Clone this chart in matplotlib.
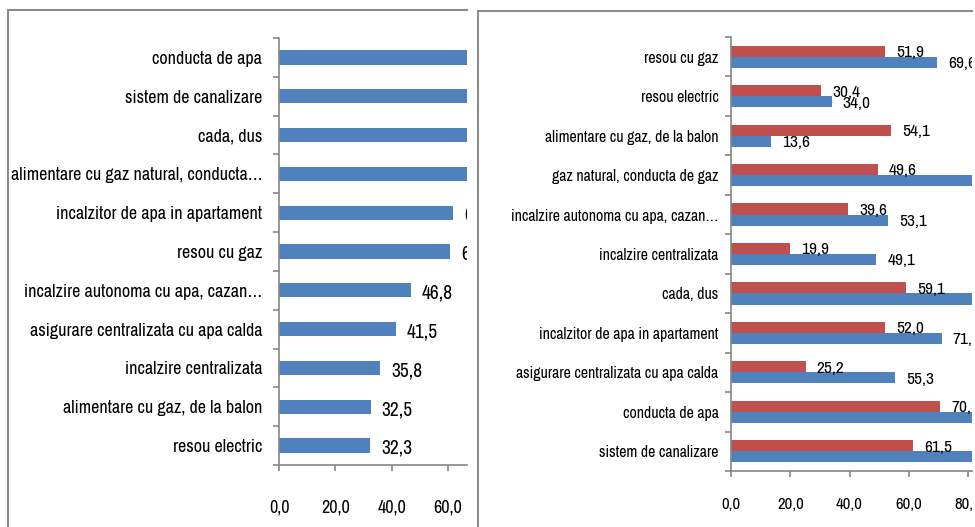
import matplotlib
matplotlib.use("Agg")
import matplotlib.pyplot as plt
import numpy as np
from matplotlib import font_manager
from matplotlib.lines import Line2D
from matplotlib.transforms import Bbox, TransformedBbox

# -----------------------------
# Data (top row first)
# -----------------------------
left_labels = [
    "conducta de apa",
    "sistem de canalizare",
    "cada, dus",
    "alimentare cu gaz natural, conducta…",
    "incalzitor de apa in apartament",
    "resou cu gaz",
    "incalzire autonoma cu apa, cazan…",
    "asigurare centralizata cu apa calda",
    "incalzire centralizata",
    "alimentare cu gaz, de la balon",
    "resou electric",
]
# first four bars run past the cropped edge, values estimated
left_values = [82.1, 76.9, 74.7, 69.3, 61.8, 60.7, 46.8, 41.5, 35.8, 32.5, 32.3]

right_labels = [
    "resou cu gaz",
    "resou electric",
    "alimentare cu gaz, de la balon",
    "gaz natural, conducta de gaz",
    "incalzire autonoma cu apa, cazan…",
    "incalzire centralizata",
    "cada, dus",
    "incalzitor de apa in apartament",
    "asigurare centralizata cu apa calda",
    "conducta de apa",
    "sistem de canalizare",
]
right_red = [51.9, 30.4, 54.1, 49.6, 39.6, 19.9, 59.1, 52.0, 25.2, 70.5, 61.5]
# blue bars cut off at the right edge are estimates
right_blue = [69.6, 34.0, 13.6, 86.0, 53.1, 49.1, 88.0, 71.1, 55.3, 92.0, 90.0]

left_ticks = [0, 20, 40, 60]
right_ticks = [0, 20, 40, 60, 80]

BLUE = "#4F81BD"
RED = "#C0504D"
AXIS_GREY = "#868686"
FRAME_GREY = "#8C8C8C"

# look for a narrow face (the original is Calibri); else shrink Liberation Sans
narrow = None
for f in font_manager.fontManager.ttflist:
    if "Narrow" in f.name or "Condensed" in f.name:
        narrow = f.name
        break
if narrow:
    plt.rcParams["font.family"] = [narrow, "DejaVu Sans"]
    k = 1.0
else:
    plt.rcParams["font.family"] = ["Liberation Sans", "DejaVu Sans"]
    k = 0.86

W, H = 975, 527
fig = plt.figure(figsize=(W / 100, H / 100), dpi=100)


def fmt(v):
    return f"{v:.1f}".replace(".", ",")


def px_axes(x0, y0, x1, y1):
    # pixel box (top-left origin) -> figure fraction
    return fig.add_axes([x0 / W, 1 - y1 / H, (x1 - x0) / W, (y1 - y0) / H])


def style(ax, labels, ticks, xmax, fs_y, fs_x, pad_y, pad_x):
    n = len(labels)
    ax.set_xlim(0, xmax)
    ax.set_ylim(-0.5, n - 0.5)
    for s in ["top", "right"]:
        ax.spines[s].set_visible(False)
    for s in ["left", "bottom"]:
        ax.spines[s].set_color(AXIS_GREY)
        ax.spines[s].set_linewidth(1.2)
    ax.set_yticks(np.arange(n)[::-1])
    ax.set_yticklabels(labels, fontsize=fs_y)
    ax.set_yticks(np.arange(-0.5, n, 1), minor=True)
    ax.set_xticks(ticks)
    ax.set_xticklabels([fmt(t) for t in ticks], fontsize=fs_x)
    ax.tick_params(axis="y", which="major", length=0, pad=pad_y)
    ax.tick_params(axis="y", which="minor", length=4, width=1.2, color=AXIS_GREY)
    ax.tick_params(axis="x", length=4, width=1.2, color=AXIS_GREY, pad=pad_x)


# -----------------------------
# Left chart
# -----------------------------
ax1 = px_axes(279, 38, 467, 465)
style(ax1, left_labels, left_ticks, 66.7, 13 * k, 13 * k, 12, 21)
pos1 = np.arange(len(left_labels))[::-1]
ax1.barh(pos1, left_values, height=0.37, color=BLUE)
for y, v in zip(pos1, left_values):
    ax1.annotate(fmt(v), (v, y), xytext=(8, -2), textcoords="offset points",
                 ha="left", va="center", fontsize=14 * k,
                 annotation_clip=False, clip_on=True, clip_box=ax1.bbox)

# -----------------------------
# Right chart
# -----------------------------
ax2 = px_axes(731, 37, 972, 471)
style(ax2, right_labels, right_ticks, 81.35, 11.4 * k, 12 * k, 9, 14.5)
pos2 = np.arange(len(right_labels))[::-1]
bh = 0.28
ax2.barh(pos2 + bh / 2, right_red, height=bh, color=RED)
ax2.barh(pos2 - bh / 2, right_blue, height=bh, color=BLUE)
for y, r, b in zip(pos2, right_red, right_blue):
    for v, yy in [(r, y + bh / 2), (b, y - bh / 2)]:
        ax2.annotate(fmt(v), (v, yy), xytext=(8, -1), textcoords="offset points",
                     ha="left", va="center", fontsize=12.5 * k,
                     annotation_clip=False, clip_on=True, clip_box=ax2.bbox)

# right chart is cropped at the picture edge, tick labels too
crop = TransformedBbox(Bbox([[0, 0], [972 / W, 1]]), fig.transFigure)
for lbl in ax2.get_xticklabels():
    lbl.set_clip_box(crop)
    lbl.set_clip_on(True)

# -----------------------------
# Chart frames
# -----------------------------
for xs, ys in [([8, 8], [10, H]), ([8, 467], [10, 10]),
               ([478, 478], [11, H]), ([478, 972], [11, 11])]:
    fig.add_artist(Line2D([x / W for x in xs], [1 - y / H for y in ys],
                          transform=fig.transFigure, color=FRAME_GREY, lw=1.5))

plt.savefig("out.png", dpi=100)
